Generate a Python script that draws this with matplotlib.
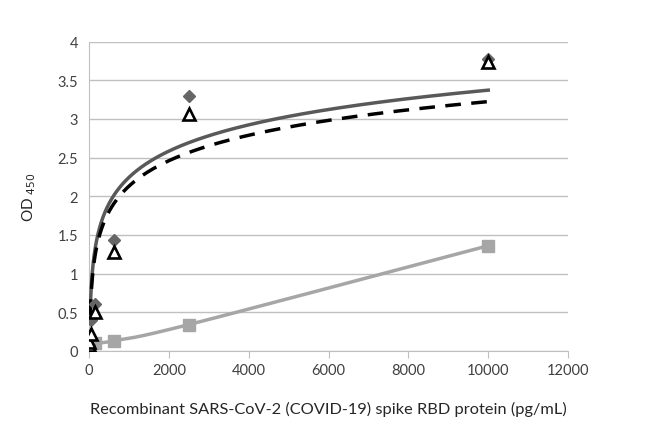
import numpy as np
import matplotlib
matplotlib.use("Agg")
import matplotlib.pyplot as plt

plt.rcParams['font.family'] = ['Lato', 'DejaVu Sans']

# standard concentrations (pg/mL)
conc = [0, 2.4, 9.8, 39, 156, 625, 2500, 10000]

# OD450 readings
od_diamond = [0.05, 0.08, 0.15, 0.40, 0.60, 1.43, 3.30, 3.78]
od_triangle = [0.05, 0.07, 0.12, 0.22, 0.50, 1.28, 3.07, 3.74]

conc_sq = [0, 156, 625, 2500, 10000]
od_square = [0.06, 0.10, 0.13, 0.34, 1.36]

# log trendlines y = a*ln(x) + b
trend_solid = (0.49, -1.14)
trend_dash = (0.475, -1.15)


def smooth_line(x, y, sx, sy, n=40):
    # Catmull-Rom smoothing like Excel's "smoothed line", done in scaled units
    p = np.column_stack([np.asarray(x) / sx, np.asarray(y) / sy])
    p = np.vstack([p[0], p, p[-1]])
    out = []
    t = np.linspace(0, 1, n)[:, None]
    for i in range(1, len(p) - 2):
        p0, p1, p2, p3 = p[i-1], p[i], p[i+1], p[i+2]
        c1 = p1 + (p2 - p0) / 6
        c2 = p2 - (p3 - p1) / 6
        seg = ((1-t)**3)*p1 + 3*((1-t)**2)*t*c1 + 3*(1-t)*t**2*c2 + t**3*p2
        out.append(seg)
    out = np.vstack(out)
    return out[:, 0] * sx, out[:, 1] * sy


fig = plt.figure(figsize=(6.5, 4.27), dpi=100)
ax = fig.add_axes([0.137, 0.176, 0.737, 0.724])

xs = np.linspace(25, 10000, 2000)
ax.plot(xs, trend_solid[0]*np.log(xs) + trend_solid[1], color='#595959', lw=2.5, zorder=3)
xd = np.linspace(30, 10000, 2000)
ax.plot(xd, trend_dash[0]*np.log(xd) + trend_dash[1], color='black', lw=2.5,
        dashes=(4.5, 3), zorder=3)

sqx, sqy = smooth_line(conc_sq, od_square, 12000, 4 * 1.5)
ax.plot(sqx, sqy, color='#a6a6a6', lw=2.5, zorder=4)
ax.plot(conc_sq, od_square, ls='none', marker='s', ms=8.5,
        mfc='#a6a6a6', mec='#a6a6a6', zorder=4)
ax.plot(conc, od_diamond, ls='none', marker='D', ms=6.5, color='#666666', zorder=5)
ax.plot(conc, od_triangle, ls='none', marker='^', ms=9, mfc='white', mec='black',
        mew=1.9, zorder=6)

ax.set_xlim(0, 12000)
ax.set_ylim(0, 4)
ax.set_xticks(np.arange(0, 12001, 2000))
ax.set_yticks(np.arange(0, 4.01, 0.5))
ax.set_yticklabels(['0', '0.5', '1', '1.5', '2', '2.5', '3', '3.5', '4'])
ax.grid(axis='y', color='#c0c0c0', lw=1)
ax.set_axisbelow(True)
for s in ['top', 'right']:
    ax.spines[s].set_visible(False)
ax.spines['left'].set_color('#c0c0c0')
ax.spines['bottom'].set_color('#c0c0c0')
ax.tick_params(axis='y', length=0, labelsize=10.5, colors='#404040', pad=8)
ax.tick_params(axis='x', length=5, color='#c0c0c0', labelsize=10.5, colors='#404040', pad=4)

ax.set_ylabel('OD $_{450}$', fontsize=11, color='#262626', labelpad=14)
ax.set_xlabel('Recombinant SARS-CoV-2 (COVID-19) spike RBD protein (pg/mL)',
              fontsize=11.8, color='#262626', labelpad=17)

fig.savefig('out.png', dpi=100)
